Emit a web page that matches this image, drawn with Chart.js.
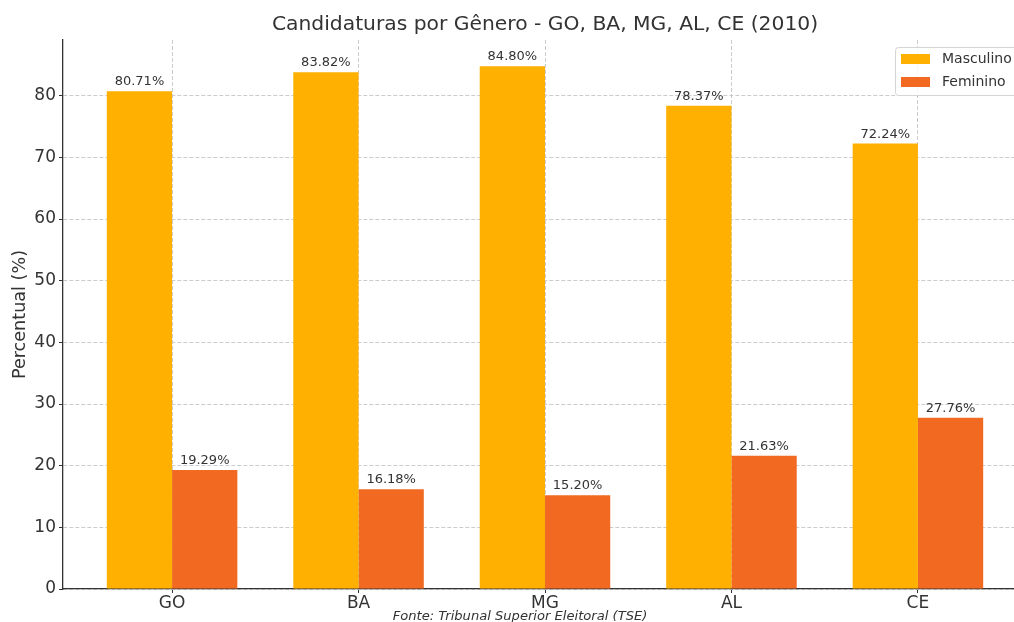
<!DOCTYPE html>
<html>
<head>
<meta charset="utf-8">
<script src="https://cdn.jsdelivr.net/npm/chart.js@4/dist/chart.umd.min.js"></script>
<style>
  html, body { margin: 0; padding: 0; background: #fff; overflow: hidden; }
  #wrap { position: relative; width: 1040px; height: 622px; }
</style>
</head>
<body>
<div id="wrap"><canvas id="chart"></canvas></div>
<script>
// --- data ---
const STATES = ['GO', 'BA', 'MG', 'AL', 'CE'];
const MASCULINO = [80.71, 83.82, 84.80, 78.37, 72.24];
const FEMININO = [19.29, 16.18, 15.20, 21.63, 27.76];
const Y_TICKS = [0, 10, 20, 30, 40, 50, 60, 70, 80];

const FONT = "'DejaVu Sans', sans-serif";
const TEXT = '#333333';
const COL_M = '#FFB000';
const COL_F = '#F26922';

// title, footer, legend and value labels
const decor = {
  id: 'decor',
  afterDatasetsDraw(chart) {
    const { ctx, chartArea } = chart;
    ctx.save();
    ctx.fillStyle = TEXT;
    ctx.font = '13px ' + FONT;
    ctx.textAlign = 'center';
    ctx.textBaseline = 'alphabetic';
    chart.data.datasets.forEach((ds, i) => {
      chart.getDatasetMeta(i).data.forEach((bar, j) => {
        ctx.fillText(ds.data[j].y.toFixed(2) + '%', bar.x, bar.y - 6);
      });
    });

    // title
    ctx.font = '20.3px ' + FONT;
    ctx.textBaseline = 'middle';
    ctx.fillText('Candidaturas por Gênero - GO, BA, MG, AL, CE (2010)', (chartArea.left + chartArea.right) / 2, 25);

    // footer
    ctx.font = 'italic 13.1px ' + FONT;
    ctx.fillText('Fonte: Tribunal Superior Eleitoral (TSE)', 520, 617);

    // legend
    const lx = 895, ly = 47, lw = 125, lh = 48;
    ctx.beginPath();
    ctx.roundRect(lx + 0.5, ly + 0.5, lw, lh, 3);
    ctx.fillStyle = 'rgba(255,255,255,0.8)';
    ctx.fill();
    ctx.strokeStyle = '#d5d5d5';
    ctx.lineWidth = 1;
    ctx.stroke();
    ctx.font = '14px ' + FONT;
    ctx.textAlign = 'left';
    chart.data.datasets.forEach((ds, i) => {
      const y = ly + 7 + i * 23;
      ctx.fillStyle = ds.backgroundColor;
      ctx.fillRect(lx + 6, y, 29, 10);
      ctx.fillStyle = TEXT;
      ctx.fillText(ds.label, lx + 47, y + 5);
    });
    ctx.restore();
  }
};

new Chart(document.getElementById('chart'), {
  type: 'bar',
  data: {
    datasets: [
      {
        label: 'Masculino',
        data: MASCULINO.map((v, i) => ({ x: i, y: v })),
        backgroundColor: COL_M,
        categoryPercentage: 0.7,
        barPercentage: 1.0
      },
      {
        label: 'Feminino',
        data: FEMININO.map((v, i) => ({ x: i, y: v })),
        backgroundColor: COL_F,
        categoryPercentage: 0.7,
        barPercentage: 1.0
      }
    ]
  },
  options: {
    responsive: true,
    maintainAspectRatio: false,
    animation: false,
    layout: { padding: { top: 40, right: 13, left: 0, bottom: 0 } },
    plugins: {
      legend: { display: false },
      title: { display: false },
      tooltip: { enabled: false }
    },
    scales: {
      x: {
        type: 'linear',
        min: -0.585,
        max: 4.585,
        offset: false,
        afterBuildTicks: s => { s.ticks = STATES.map((_, i) => ({ value: i })); },
        afterFit: s => { s.height = 33; },
        grid: { offset: false, color: '#cccccc', lineWidth: 1, tickLength: 4, tickColor: TEXT },
        border: { color: TEXT, width: 1.3, dash: [4, 2] },
        ticks: {
          padding: 0,
          color: TEXT,
          font: { family: FONT, size: 17 },
          maxRotation: 0,
          callback: v => STATES[v]
        }
      },
      y: {
        min: 0,
        max: 89.04,
        afterBuildTicks: s => { s.ticks = Y_TICKS.map(v => ({ value: v })); },
        afterFit: s => { s.width = 63; },
        grid: { color: '#cccccc', lineWidth: 1, tickLength: 4, tickColor: TEXT },
        border: { color: TEXT, width: 1.3, dash: [4, 2] },
        ticks: {
          padding: 3,
          color: TEXT,
          font: { family: FONT, size: 17 }
        },
        title: {
          display: true,
          text: 'Percentual (%)',
          color: TEXT,
          font: { family: FONT, size: 17.6 },
          padding: { top: 10, bottom: 0 }
        }
      }
    }
  },
  plugins: [decor]
});
</script>
</body>
</html>
